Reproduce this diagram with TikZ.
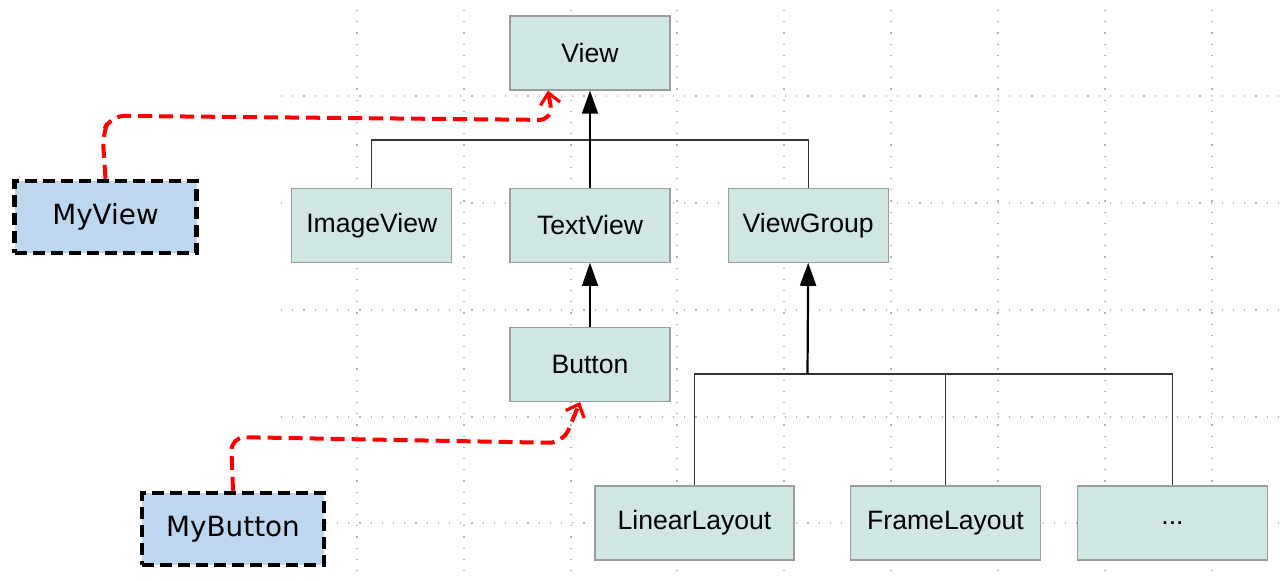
\documentclass[tikz,border=0pt]{standalone}
\usepackage{fontspec}
\setmainfont{Liberation Sans}
\newfontfamily\ownfont{DejaVu Sans}
\usetikzlibrary{arrows.meta,positioning}
\definecolor{clsfill}{HTML}{CFE6E3}
\definecolor{clsline}{HTML}{9C9C9C}
\definecolor{ownfill}{HTML}{BDD7EE}

\begin{document}
\begin{tikzpicture}[x=0.5pt,y=-0.5pt, node distance=28.5pt,
  cls/.style={draw=clsline,fill=clsfill,line width=0.6pt,minimum width=80pt,minimum height=37pt,font=\fontsize{13.3}{16}\selectfont},
  own/.style={draw=black,fill=ownfill,line width=2.2pt,dash pattern=on 6pt off 3pt,minimum width=91pt,minimum height=36pt,font=\ownfont\fontsize{13.9}{17}\selectfont},
  tree/.style={draw=black!80,line width=0.6pt},
  inh/.style={black,line width=0.6pt,-{Triangle[length=11.5pt,width=8pt]}},
  uses/.style={red,line width=2pt,dash pattern=on 7pt off 3.5pt,rounded corners=7pt,-{Straight Barb[length=5.5pt,width=10pt,line width=1.6pt]}},
  grid/.style={gray!60,line width=0.6pt,dash pattern=on 0.6pt off 5pt}]
\useasboundingbox (0,0) rectangle (1283,581);
% background grid
\foreach \y in {96,203,310,417,523} \draw[grid] (281,\y) -- (1283,\y);
\foreach \x in {357,464,571,677,784,891,998,1105,1212} \draw[grid] (\x,10) -- (\x,581);
% classes
\node[cls] (view) at (590,53) {View};
\node[cls] (textview) [below=48.5pt of view] {TextView};
\node[cls] (imageview) [left=of textview] {ImageView};
\node[cls] (viewgroup) [right=of textview] {ViewGroup};
\node[cls] (button) [below=32pt of textview] {Button};
\node[cls,minimum width=99.5pt] (linear) at (694.5,523) {LinearLayout};
\node[cls,minimum width=95pt] (frame) at (945.5,523) {FrameLayout};
\node[cls,minimum width=95pt] (more) at (1172.5,523) {...};
\node[own] (myview) at (105.5,217) {MyView};
\node[own] (mybutton) at (233,529) {MyButton};
% inheritance
\coordinate (vbar) at (590,140);
\coordinate (gbar) at (807.5,374);
\draw[tree] (imageview.north) |- (vbar) -| (viewgroup.north);
\draw[inh] (textview.north) -- (view.south);
\draw[inh] (button.north) -- (textview.south);
\draw[tree] (linear.north) |- (gbar) -| (more.north);
\draw[tree] (frame.north) -- (frame.north |- gbar);
\draw[inh,line width=1.1pt] (gbar) -- (viewgroup.south);
% own classes
\draw[uses] (myview.north) -- ++(-3,-45) -- ++(8,-18) -- (553,120) -- ([xshift=-21pt]view.south);
\draw[uses] (mybutton.north) -- (231,437) -- (563,443) -- ([xshift=-5pt]button.south);
\end{tikzpicture}
\end{document}
